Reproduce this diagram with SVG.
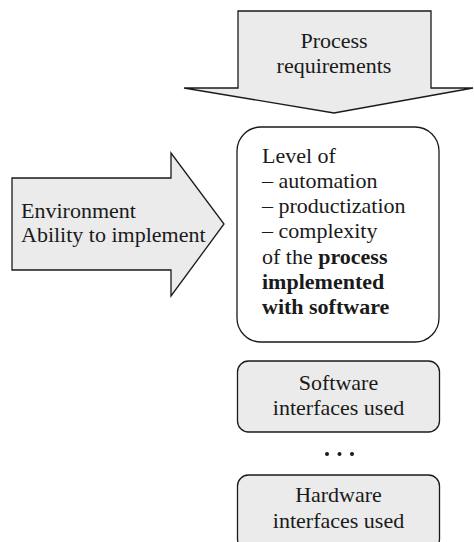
<svg xmlns="http://www.w3.org/2000/svg" width="474" height="542" viewBox="0 0 474 542">
  <style>
    .shape { stroke: #1a1a1a; stroke-width: 1.3; stroke-linejoin: miter; }
    .grey { fill: #ebebeb; }
    .white { fill: #ffffff; }
    text { font-family: "Liberation Serif", "Times New Roman", serif; font-size: 22px; fill: #1a1a1a; }
    .mid { text-anchor: middle; }
    .b { font-weight: bold; }
  </style>
  <rect width="474" height="542" fill="#ffffff"/>

  <g id="connectors">
    <!-- downward block arrow -->
    <g id="process-requirements">
      <path class="shape grey" d="M238,11 H431 V88 H473 L334,113 L184,88 H238 Z"/>
      <text class="mid" x="334" y="48">Process</text>
      <text class="mid" x="334" y="73">requirements</text>
    </g>
    <!-- rightward block arrow -->
    <g id="environment">
      <path class="shape grey" d="M12,178 H171 V153 L224,224 L171,296 V270 H12 Z"/>
      <text x="21" y="218">Environment</text>
      <text x="21" y="242">Ability to implement</text>
    </g>
  </g>

  <g id="process-level">
    <rect class="shape white" x="237" y="127" width="202" height="215" rx="24" ry="24"/>
    <text x="262" y="162.5">Level of</text>
    <text x="262" y="187.8">– automation</text>
    <text x="262" y="213.1">– productization</text>
    <text x="262" y="238.4">– complexity</text>
    <text x="262" y="263.7">of the <tspan class="b">process</tspan></text>
    <text class="b" x="262" y="289">implemented</text>
    <text class="b" x="262" y="314.3">with software</text>
  </g>

  <g id="software-interfaces">
    <rect class="shape grey" x="237.5" y="361" width="202" height="71" rx="11" ry="11"/>
    <text class="mid" x="338.5" y="390">Software</text>
    <text class="mid" x="338.5" y="415">interfaces used</text>
  </g>

  <g id="ellipsis">
    <circle cx="327" cy="454" r="2" fill="#1a1a1a"/>
    <circle cx="339.5" cy="454" r="2" fill="#1a1a1a"/>
    <circle cx="352" cy="454" r="2" fill="#1a1a1a"/>
  </g>

  <g id="hardware-interfaces">
    <rect class="shape grey" x="237.5" y="475" width="202" height="75" rx="11" ry="11"/>
    <text class="mid" x="338.5" y="502">Hardware</text>
    <text class="mid" x="338.5" y="528">interfaces used</text>
  </g>
</svg>
